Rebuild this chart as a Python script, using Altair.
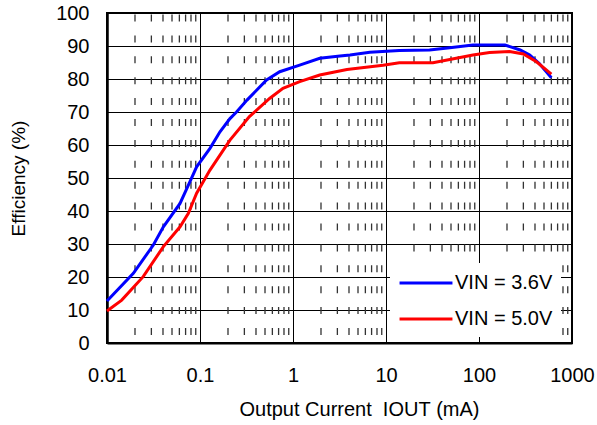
import altair as alt
import pandas as pd

# ---- data ----
blue_x = [0.01, 0.0192, 0.0315, 0.0404, 0.061, 0.078, 0.092, 0.128, 0.164, 0.21, 0.247, 0.32,
          0.52, 0.72, 1.18, 1.94, 3.2, 4.1, 6.7, 13.9, 29.4, 48.5, 86, 190, 277, 351, 445, 600]
blue_y = [12.7, 21.1, 29.7, 35.2, 42.3, 48.9, 53.4, 59.0, 64.0, 68.0, 70.0, 73.6,
          79.7, 82.2, 84.2, 86.3, 87.0, 87.3, 88.1, 88.6, 88.8, 89.5, 90.3, 90.3, 88.8, 87.3, 84.7, 80.4]

red_x = [0.01, 0.0144, 0.0245, 0.0404, 0.061, 0.075, 0.092, 0.128, 0.21, 0.34, 0.56, 0.78,
         1.18, 1.94, 3.8, 9.3, 13.9, 32, 48.5, 86, 130, 213, 300, 415, 600]
red_y = [9.7, 13.0, 20.1, 29.2, 35.2, 39.3, 45.4, 52.4, 61.5, 68.6, 74.1, 77.2,
         79.2, 81.2, 82.9, 84.2, 84.9, 84.9, 85.9, 87.3, 88.0, 88.3, 87.6, 85.2, 81.5]

series_names = ["VIN = 3.6V", "VIN = 5.0V"]
series_colors = ["#0000ff", "#ff0000"]

x_ticks = [0.01, 0.1, 1, 10, 100, 1000]
y_ticks = [0, 10, 20, 30, 40, 50, 60, 70, 80, 90, 100]
minor_mult = [2, 3, 4, 5, 6, 7, 8, 9]
decades = [0.01, 0.1, 1, 10, 100]

df = pd.concat([
    pd.DataFrame({"I": blue_x, "eff": blue_y, "series": series_names[0]}),
    pd.DataFrame({"I": red_x, "eff": red_y, "series": series_names[1]}),
])
minor_df = pd.DataFrame({"x": [d * m for d in decades for m in minor_mult]})

FONT = "Liberation Sans"
X_TITLE = "Output Current\u00a0\u00a0IOUT\u00a0(mA)"
xscale = alt.Scale(type="log", domain=[0.01, 1000])

x_axis = alt.Axis(values=x_ticks, format="~g", title=X_TITLE,
                  grid=True, gridColor="black", gridWidth=1, gridOpacity=1,
                  ticks=False, labelPadding=22, labelFontSize=20,
                  titleFontSize=20, titleFontWeight="normal",
                  titleX=252, titleY=72, titleBaseline="alphabetic", titleAlign="center",
                  domainColor="black", domainWidth=2, labelFlush=False)

rules = alt.Chart(minor_df).mark_rule(
    strokeDash=[7, 13.9], strokeDashOffset=19.4, color="#333333", strokeWidth=1.3
).encode(x=alt.X("x:Q", scale=xscale, axis=x_axis, title=X_TITLE))

lines = alt.Chart(df).mark_line(strokeWidth=3).encode(
    x=alt.X("I:Q", scale=xscale, axis=x_axis, title=X_TITLE),
    y=alt.Y("eff:Q", scale=alt.Scale(domain=[0, 100]),
            axis=alt.Axis(values=y_ticks, title="Efficiency (%)",
                          grid=True, gridColor="black", gridWidth=1, gridOpacity=1,
                          ticks=False, labelPadding=18, labelFontSize=20,
                          titleFontSize=19, titleFontWeight="normal",
                          titleX=-89, titleY=165, titleAngle=270, titleAlign="center",
                          titleBaseline="middle",
                          domainColor="black", domainWidth=2.5)),
    color=alt.Color("series:N",
                    scale=alt.Scale(domain=series_names, range=series_colors),
                    legend=alt.Legend(title=None, orient="none", legendX=283, legendY=250,
                                      fillColor="white", padding=8,
                                      symbolType="M-2.52,0H2.52", symbolSize=441,
                                      symbolOffset=16, symbolStrokeWidth=3,
                                      labelFontSize=20, labelOffset=17, rowPadding=14,
                                      labelColor="black", labelFont=FONT)),
)

chart = alt.layer(rules, lines).properties(
    width=465, height=330,
    autosize=alt.AutoSizeParams(type="none"),
    padding={"left": 107, "top": 13, "right": 25, "bottom": 82},
).configure_view(stroke="black", strokeWidth=2).configure_axis(
    labelFont=FONT, titleFont=FONT, labelColor="black", titleColor="black"
)

chart.save("out.html", embed_options={"renderer": "svg", "actions": False})
